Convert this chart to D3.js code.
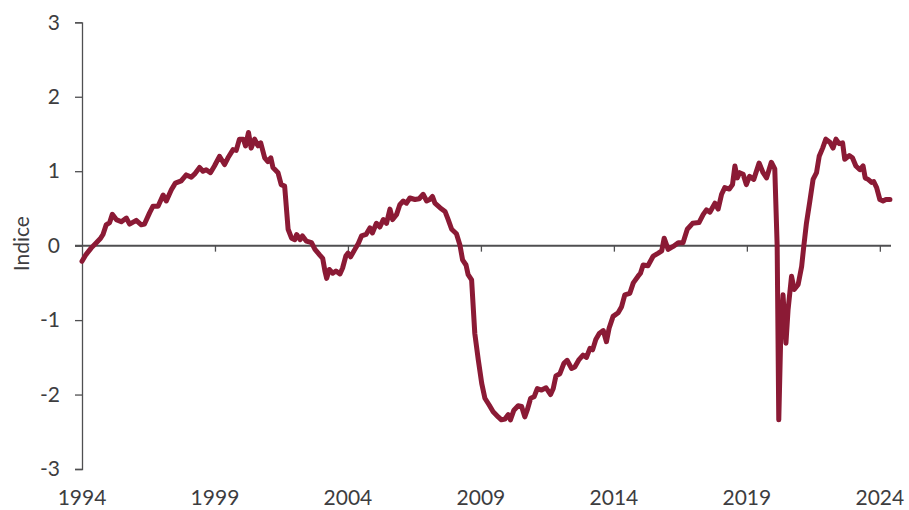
<!DOCTYPE html>
<html>
<head>
<meta charset="utf-8">
<script src="https://cdn.jsdelivr.net/npm/d3@7"></script>
<style>
  html, body { margin: 0; padding: 0; background: #fff; }
  svg { display: block; }
  text { font-family: Lato, "Open Sans", sans-serif; font-weight: 400; fill: #3d3d3f; }
</style>
</head>
<body>
<svg id="chart" width="909" height="510"></svg>
<script>
// ---- data ----
const years = [
1994.00,1994.15,1994.35,1994.54,1994.70,1994.79,1994.91,1995.04,1995.14,1995.29,1995.48,1995.67,1995.79,
1996.04,1996.23,1996.35,1996.54,1996.67,1996.86,1997.05,1997.17,1997.36,1997.51,1997.73,1997.92,
1998.11,1998.23,1998.42,1998.55,1998.67,1998.83,1998.98,1999.17,1999.36,1999.49,1999.68,1999.80,1999.92,
2000.07,2000.15,2000.26,2000.36,2000.49,2000.62,2000.72,2000.87,2000.99,2001.10,2001.18,2001.37,2001.49,2001.62,2001.75,2001.88,
2002.00,2002.07,2002.20,2002.29,2002.44,2002.63,2002.76,2002.95,2003.05,2003.14,2003.20,2003.30,2003.43,2003.55,2003.70,2003.80,2003.92,
2004.00,2004.10,2004.26,2004.39,2004.51,2004.68,2004.83,2004.92,2005.07,2005.20,2005.33,2005.45,2005.58,2005.68,2005.83,2005.95,
2006.08,2006.20,2006.33,2006.52,2006.68,2006.83,2006.96,2007.08,2007.18,2007.27,2007.46,2007.65,2007.77,2007.90,
2008.08,2008.21,2008.31,2008.44,2008.52,2008.65,2008.77,2008.90,2009.03,2009.15,2009.31,2009.46,2009.65,2009.77,2009.90,
2010.03,2010.11,2010.24,2010.40,2010.53,2010.65,2010.74,2010.87,2011.00,2011.12,2011.28,2011.45,2011.62,2011.72,2011.82,2011.97,
2012.12,2012.24,2012.41,2012.53,2012.69,2012.84,2012.97,2013.10,2013.20,2013.32,2013.45,2013.60,2013.72,2013.82,2013.97,
2014.16,2014.29,2014.41,2014.60,2014.73,2014.91,2015.00,2015.10,2015.28,2015.48,2015.67,2015.80,2015.89,
2016.04,2016.23,2016.42,2016.60,2016.76,2016.96,2017.20,2017.36,2017.48,2017.61,2017.80,2017.92,
2018.05,2018.17,2018.34,2018.46,2018.55,2018.64,2018.73,2018.86,2018.98,2019.10,2019.26,2019.46,2019.61,2019.74,2019.92,
2020.05,2020.14,2020.20,2020.28,2020.36,2020.47,2020.55,2020.68,2020.78,2020.93,2021.06,2021.14,2021.24,2021.37,2021.49,2021.62,2021.72,2021.85,2021.97,
2022.12,2022.24,2022.35,2022.47,2022.60,2022.68,2022.85,2022.97,2023.10,2023.25,2023.37,2023.45,2023.56,2023.69,2023.77,2023.88,
2024.00,2024.12,2024.23,2024.38
];
const values = [
-0.21,-0.12,-0.03,0.04,0.10,0.15,0.28,0.31,0.42,0.35,0.32,0.37,0.29,
0.34,0.28,0.29,0.44,0.53,0.53,0.68,0.60,0.75,0.84,0.87,0.95,
0.92,0.96,1.05,1.00,1.02,0.98,1.07,1.20,1.09,1.18,1.29,1.28,1.43,
1.43,1.34,1.52,1.31,1.43,1.34,1.38,1.18,1.13,1.18,1.05,0.98,0.82,0.80,0.22,0.10,
0.08,0.15,0.08,0.13,0.06,0.04,-0.05,-0.13,-0.17,-0.35,-0.44,-0.32,-0.37,-0.34,-0.38,-0.30,-0.14,
-0.10,-0.15,-0.05,0.03,0.13,0.15,0.24,0.17,0.30,0.25,0.35,0.30,0.49,0.35,0.42,0.55,
0.60,0.57,0.64,0.62,0.63,0.69,0.60,0.62,0.66,0.57,0.51,0.46,0.35,0.22,
0.16,0.01,-0.19,-0.26,-0.39,-0.46,-1.18,-1.53,-1.85,-2.05,-2.14,-2.23,-2.30,-2.34,-2.33,
-2.27,-2.34,-2.21,-2.15,-2.16,-2.30,-2.21,-2.05,-2.03,-1.92,-1.94,-1.91,-2.00,-1.92,-1.75,-1.72,
-1.58,-1.54,-1.65,-1.63,-1.53,-1.47,-1.50,-1.38,-1.40,-1.26,-1.18,-1.14,-1.29,-1.11,-0.95,
-0.90,-0.82,-0.66,-0.64,-0.50,-0.41,-0.37,-0.26,-0.27,-0.14,-0.10,-0.07,0.10,
-0.05,-0.01,0.04,0.04,0.22,0.30,0.31,0.42,0.48,0.45,0.57,0.49,
0.69,0.78,0.76,0.82,1.07,0.91,0.98,0.96,0.82,0.93,0.89,1.11,0.98,0.91,1.12,
1.03,-0.01,-2.34,-1.13,-0.66,-1.31,-0.86,-0.41,-0.59,-0.52,-0.28,-0.01,0.30,0.60,0.89,0.98,1.20,1.31,1.43,
1.39,1.31,1.43,1.37,1.38,1.16,1.21,1.18,1.07,1.02,1.07,0.91,0.89,0.85,0.86,0.78,
0.62,0.60,0.62,0.62
];
const xTickYears = [1994, 1999, 2004, 2009, 2014, 2019, 2024];
const yTicks = [-3, -2, -1, 0, 1, 2, 3];
const yTitle = "Indice";

// ---- chart ----
const svg = d3.select("#chart");
const x = d3.scaleLinear().domain([1994, 2024.42]).range([82, 891]);
const y = d3.scaleLinear().domain([-3, 3]).range([469, 22.3]);
const axisColor = "#4f4f51";
const textColor = "#3d3d3f";

// y axis
const yAxis = d3.axisLeft(y).tickValues(yTicks).tickSize(7).tickPadding(15)
  .tickFormat(d => String(d));
const gy = svg.append("g").attr("transform", `translate(${x(1994)},0)`).call(yAxis);
gy.select(".domain").attr("stroke", axisColor).attr("stroke-width", 1.3);
gy.selectAll(".tick line").attr("stroke", axisColor).attr("stroke-width", 1.3);
gy.selectAll(".tick text").attr("font-size", 21).attr("font-family", "Lato, sans-serif")
  .attr("font-weight", 400).attr("fill", textColor);

// zero line with x ticks
const xAxis = d3.axisBottom(x).tickValues(xTickYears.filter(d => d !== 1994)).tickSize(6).tickFormat("");
const gx = svg.append("g").attr("transform", `translate(0,${y(0)})`).call(xAxis);
gx.select(".domain").remove();
gx.selectAll(".tick line").attr("stroke", axisColor).attr("stroke-width", 1.3);
svg.append("line")
  .attr("x1", x(1994) - 7).attr("x2", x.range()[1])
  .attr("y1", y(0)).attr("y2", y(0))
  .attr("stroke", axisColor).attr("stroke-width", 2);

// x tick labels at bottom
svg.append("g").selectAll("text").data(xTickYears).join("text")
  .attr("x", d => x(d)).attr("y", 505)
  .attr("text-anchor", "middle")
  .attr("font-size", 21)
  .text(d => d);

// y title
svg.append("text")
  .attr("transform", `translate(29,${y(0) - 2}) rotate(-90)`)
  .attr("text-anchor", "middle")
  .attr("font-size", 21)
  .text(yTitle);

// line
const data = years.map((d, i) => [d, values[i]]);
svg.append("path").datum(data)
  .attr("fill", "none")
  .attr("stroke", "#8b1a35")
  .attr("stroke-width", 5)
  .attr("stroke-linejoin", "round")
  .attr("stroke-linecap", "round")
  .attr("d", d3.line().x(d => x(d[0])).y(d => y(d[1])));
</script>
</body>
</html>
